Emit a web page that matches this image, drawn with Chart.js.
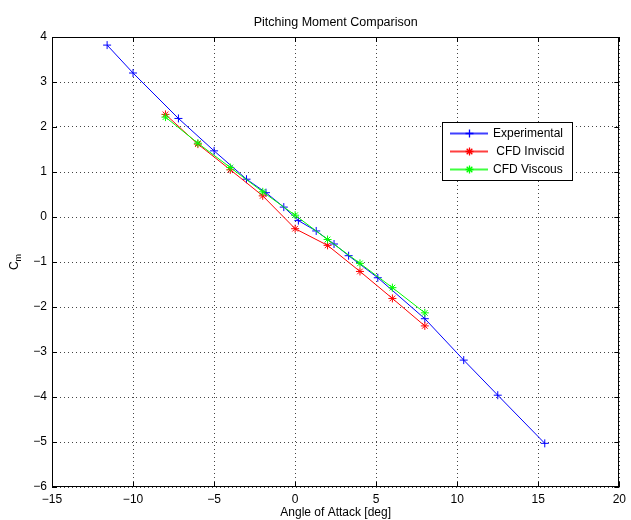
<!DOCTYPE html>
<html>
<head>
<meta charset="utf-8">
<script src="https://cdn.jsdelivr.net/npm/chart.js@4/dist/chart.umd.min.js"></script>
<style>
html,body{margin:0;padding:0;background:#fff;}
#wrap{width:631px;height:520px;position:relative;}
</style>
</head>
<body>
<div id="wrap"><canvas id="c" width="631" height="520"></canvas></div>
<script>
// ---- data ----
const chartTitle = 'Pitching Moment Comparison';
const xLabel = 'Angle of Attack [deg]';
const yLabelMain = 'C';
const yLabelSub = 'm';
const seriesLabels = ['Experimental', ' CFD Inviscid', 'CFD Viscous'];

const expAlpha = [-11.6, -10.0, -7.2, -5.0, -3.0, -1.8, -0.7, 0.2, 1.3, 2.4, 3.3, 5.1, 8.0, 10.4, 12.5, 15.4];
const expCm    = [3.82, 3.20, 2.19, 1.47, 0.84, 0.54, 0.22, -0.08, -0.31, -0.60, -0.86, -1.35, -2.26, -3.18, -3.96, -5.03];

const cfdAlpha   = [-8, -6, -4, -2, 0, 2, 4, 6, 8];
const invCm      = [2.28, 1.62, 1.05, 0.47, -0.26, -0.63, -1.21, -1.81, -2.42];
const viscCm     = [2.22, 1.64, 1.10, 0.56, 0.04, -0.50, -1.03, -1.57, -2.13];

const xTicks = [-15, -10, -5, 0, 5, 10, 15, 20];
const yTicks = [-6, -5, -4, -3, -2, -1, 0, 1, 2, 3, 4];

// ---- build ----
const FONT = '"Liberation Sans", Arial, Helvetica, sans-serif';
const colors = ['#0000ff', '#ff0000', '#00ff00'];
const styles = ['cross', 'star', 'star'];

function pts(xs, ys){ return xs.map((x,i)=>({x:x, y:ys[i]})); }
function fmt(v){ return String(v).replace('-', '\u2212'); }

function drawMarker(ctx, style, x, y, r){
  ctx.beginPath();
  ctx.moveTo(x - r, y); ctx.lineTo(x + r, y);
  ctx.moveTo(x, y - r); ctx.lineTo(x, y + r);
  if (style === 'star'){
    const d = r * Math.SQRT1_2;
    ctx.moveTo(x - d, y - d); ctx.lineTo(x + d, y + d);
    ctx.moveTo(x - d, y + d); ctx.lineTo(x + d, y - d);
  }
  ctx.stroke();
}

const decor = {
  id: 'decor',
  afterDraw(chart){
    const ctx = chart.ctx;
    const a = chart.chartArea;
    const xs = chart.scales.x, ys = chart.scales.y;
    ctx.save();
    // box
    ctx.strokeStyle = '#000'; ctx.lineWidth = 1; ctx.setLineDash([]);
    ctx.strokeRect(Math.round(a.left)+0.5, Math.round(a.top)+0.5, Math.round(a.right-a.left)-1, Math.round(a.bottom-a.top)-1);
    // inner ticks
    const tl = 5;
    ctx.beginPath();
    xTicks.forEach(v=>{
      const px = Math.round(xs.getPixelForValue(v)) + 0.5;
      ctx.moveTo(px, a.bottom); ctx.lineTo(px, a.bottom - tl);
      ctx.moveTo(px, a.top); ctx.lineTo(px, a.top + tl);
    });
    yTicks.forEach(v=>{
      const py = Math.round(ys.getPixelForValue(v)) + 0.5;
      ctx.moveTo(a.left, py); ctx.lineTo(a.left + tl, py);
      ctx.moveTo(a.right, py); ctx.lineTo(a.right - tl, py);
    });
    ctx.stroke();
    // title
    ctx.fillStyle = '#000';
    ctx.textAlign = 'center'; ctx.textBaseline = 'alphabetic';
    ctx.font = '12.5px ' + FONT;
    ctx.fillText(chartTitle, (a.left + a.right)/2, 26);
    // x label
    ctx.font = '12px ' + FONT;
    ctx.fillText(xLabel, (a.left + a.right)/2, 516);
    // y label C_m
    ctx.save();
    ctx.translate(18, (a.top + a.bottom)/2);
    ctx.rotate(-Math.PI/2);
    ctx.textAlign = 'left';
    ctx.font = '12px ' + FONT;
    const wC = ctx.measureText(yLabelMain).width;
    ctx.font = '9px ' + FONT;
    const wm = ctx.measureText(yLabelSub).width;
    const start = -(wC + wm)/2;
    ctx.font = '12px ' + FONT;
    ctx.fillText(yLabelMain, start, 0);
    ctx.font = '9px ' + FONT;
    ctx.fillText(yLabelSub, start + wC, 3);
    ctx.restore();
    // legend
    const lx = 442.5, ly = 122.5, lw = 130, lh = 58;
    ctx.fillStyle = '#fff';
    ctx.fillRect(lx, ly, lw, lh);
    ctx.strokeStyle = '#000';
    ctx.lineWidth = 1;
    ctx.strokeRect(lx, ly, lw, lh);
    const rows = [133, 151, 169];
    seriesLabels.forEach((lab, i)=>{
      const y = rows[i];
      ctx.save();
      ctx.globalAlpha = 0.75;
      ctx.fillStyle = colors[i];
      ctx.fillRect(450, y - 0.5, 38, 2);
      ctx.restore();
      ctx.strokeStyle = colors[i];
      ctx.lineWidth = 1.3;
      drawMarker(ctx, styles[i], 469.5, y + 0.5, 4);
      ctx.font = '12px ' + FONT;
      ctx.textAlign = 'left'; ctx.textBaseline = 'middle';
      ctx.fillStyle = '#000';
      ctx.fillText(lab, 493, y + 1);
    });
    ctx.restore();
  }
};

const common = { showLine: true, borderWidth: 1, pointRadius: 4, pointHoverRadius: 4, pointBorderWidth: 1, fill: false, tension: 0 };

new Chart(document.getElementById('c'), {
  type: 'scatter',
  data: {
    datasets: [
      Object.assign({ label: seriesLabels[0], data: pts(expAlpha, expCm), borderColor: colors[0], backgroundColor: colors[0], pointStyle: styles[0], order: 3 }, common),
      Object.assign({ label: seriesLabels[1], data: pts(cfdAlpha, invCm), borderColor: colors[1], backgroundColor: colors[1], pointStyle: styles[1], order: 2 }, common),
      Object.assign({ label: seriesLabels[2], data: pts(cfdAlpha, viscCm), borderColor: colors[2], backgroundColor: colors[2], pointStyle: styles[2], order: 1 }, common)
    ]
  },
  options: {
    responsive: false,
    animation: false,
    devicePixelRatio: 1,
    layout: { padding: { top: 37, right: 9, left: 0, bottom: 0 } },
    plugins: { legend: { display: false }, title: { display: false }, tooltip: { enabled: false } },
    scales: {
      x: {
        type: 'linear', min: -15, max: 20,
        afterFit(s){ s.height = 33; },
        afterBuildTicks(s){ s.ticks = xTicks.map(v=>({value:v})); },
        ticks: { color: '#000', font: { family: FONT, size: 12 }, padding: 5, callback: v => fmt(v), maxRotation: 0 },
        grid: { color: '#444', lineWidth: 1, drawTicks: false },
        border: { display: false, dash: [1, 3] }
      },
      y: {
        type: 'linear', min: -6, max: 4,
        afterFit(s){ s.width = 52; },
        afterBuildTicks(s){ s.ticks = yTicks.map(v=>({value:v})); },
        ticks: { color: '#000', font: { family: FONT, size: 12 }, padding: 5, callback: v => fmt(v) },
        grid: { color: '#444', lineWidth: 1, drawTicks: false },
        border: { display: false, dash: [1, 3] }
      }
    }
  },
  plugins: [decor]
});
</script>
</body>
</html>
